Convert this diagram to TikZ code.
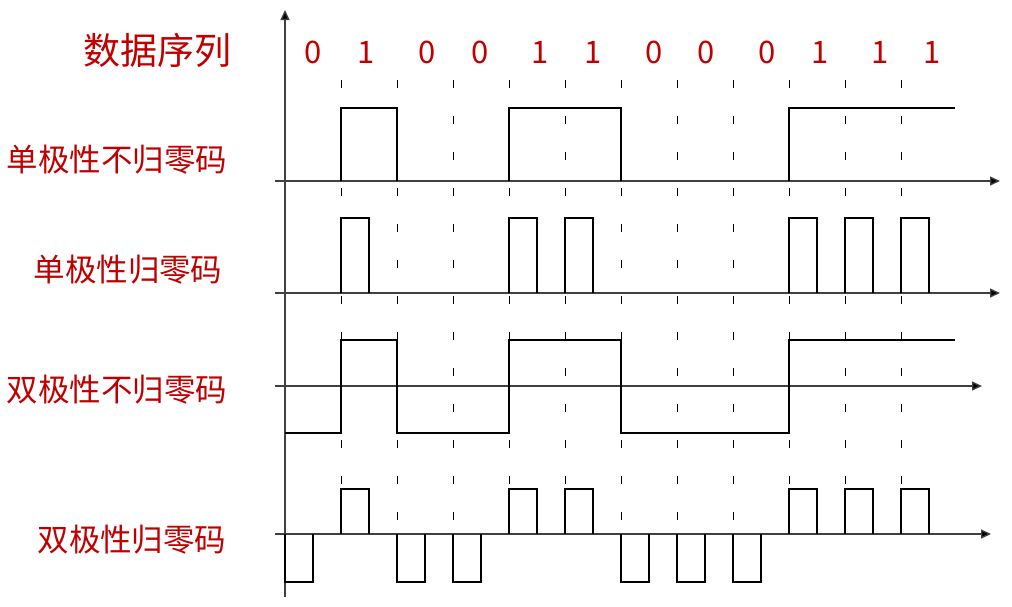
\documentclass[tikz,border=0pt]{standalone}
\usepackage{fontspec}
\newfontfamily\cjk{Noto Sans CJK SC}
\usetikzlibrary{arrows.meta}
\definecolor{lblred}{HTML}{C00000}
\begin{document}
\begin{tikzpicture}[x=1pt,y=-1pt,
  wave/.style={line width=2.2pt, line join=miter},
  axis/.style={line width=1.3pt, draw=black!75, -{Triangle[length=10pt,width=9pt,fill=black]}},
  guide/.style={line width=0.9pt, dash pattern=on 8pt off 28pt},
  lbl/.style={text=lblred, font=\cjk\fontsize{31.5}{31.5}\selectfont, inner sep=0pt},
  bit/.style={text=lblred, font=\cjk\fontsize{31}{31}\selectfont, inner sep=0pt}]
\useasboundingbox (0,0) rectangle (1012,606);
% guides
\foreach \x in {341,397,...,901} \draw[guide] (\x,80) -- (\x,520);
% axes
\coordinate (vy0) at (285,597); \coordinate (vy1) at (285,10);
\draw[axis] (vy0) -- (vy1);
\coordinate (a1s) at (275,181); \coordinate (a1e) at (1000,181);
\coordinate (a2s) at (275,293); \coordinate (a2e) at (1000,293);
\coordinate (a3s) at (275,386); \coordinate (a3e) at (982,386);
\coordinate (a4s) at (275,534); \coordinate (a4e) at (991,534);
\draw[axis] (a1s) -- (a1e);
\draw[axis] (a2s) -- (a2e);
\draw[axis] (a3s) -- (a3e);
\draw[axis] (a4s) -- (a4e);
% labels
\node[lbl, font=\cjk\fontsize{37}{37}\selectfont] (t0) at (157,50) {数据序列};
\node[lbl] (t1) at (117,160) {单极性不归零码};
\node[lbl] (t2) at (128,270) {单极性归零码};
\node[lbl] (t3) at (117,390) {双极性不归零码};
\node[lbl] (t4) at (132,540) {双极性归零码};
% bits
\foreach \x/\b [count=\i] in {313/0,366/1,427/0,480/0,540/1,593/1,654/0,706/0,767/0,820/1,880/1,932/1}
  \node[bit] (b\i) at (\x,52) {\b};
% row 1: unipolar NRZ
\draw[wave] (341,181) -- (341,108) -- (397,108) -- (397,181);
\draw[wave] (509,181) -- (509,108) -- (621,108) -- (621,181);
\draw[wave] (789,181) -- (789,108) -- (955,108);
% row 2: unipolar RZ
\foreach \x in {341,509,565,789,845,901}
  \draw[wave] (\x,293) -- (\x,218) -- (\x+28,218) -- (\x+28,293);
% row 3: bipolar NRZ
\draw[wave] (285,433) -- (341,433) -- (341,340) -- (397,340) -- (397,433) -- (509,433)
  -- (509,340) -- (621,340) -- (621,433) -- (789,433) -- (789,340) -- (955,340);
% row 4: bipolar RZ
\foreach \x in {341,509,565,789,845,901}
  \draw[wave] (\x,534) -- (\x,489) -- (\x+28,489) -- (\x+28,534);
\foreach \x in {285,397,453,621,677,733}
  \draw[wave] (\x,534) -- (\x,582) -- (\x+28,582) -- (\x+28,534);
\end{tikzpicture}
\end{document}
